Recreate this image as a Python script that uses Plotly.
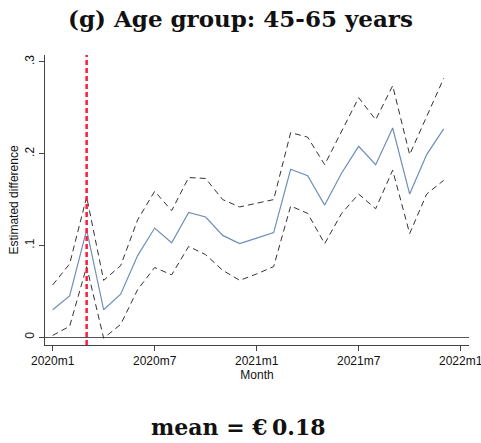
import plotly.graph_objects as go

months = list(range(24))
estimate = [0.030, 0.045, 0.117, 0.030, 0.047, 0.089, 0.119, 0.103, 0.136, 0.131,
            0.111, 0.102, 0.108, 0.114, 0.183, 0.176, 0.144, 0.179, 0.208, 0.188,
            0.228, 0.156, 0.199, 0.227]
upper = [0.057, 0.080, 0.153, 0.062, 0.078, 0.128, 0.159, 0.138, 0.174, 0.173,
         0.150, 0.142, 0.146, 0.150, 0.223, 0.218, 0.188, 0.224, 0.261, 0.237,
         0.274, 0.199, 0.240, 0.282]
lower = [0.002, 0.012, 0.077, -0.001, 0.014, 0.052, 0.076, 0.068, 0.099, 0.090,
         0.073, 0.062, 0.069, 0.077, 0.143, 0.135, 0.102, 0.135, 0.156, 0.140,
         0.182, 0.113, 0.156, 0.171]
tick_vals = [0, 6, 12, 18, 24]
tick_text = ["2020m1", "2020m7", "2021m1", "2021m7", "2022m1"]
ytick_vals = [0, 0.1, 0.2, 0.3]
ytick_text = ["0", ".1", ".2", ".3"]
event_month = 2

W, H = 481, 443
L, R, T, B = 45, 12, 55, 98
PH = H - T - B
PW = W - L - R

fig = go.Figure()
fig.add_trace(go.Scatter(x=months, y=upper, mode="lines",
                         line=dict(color="#333333", width=1, dash="6px,4px"), showlegend=False))
fig.add_trace(go.Scatter(x=months, y=lower, mode="lines",
                         line=dict(color="#333333", width=1, dash="6px,4px"), showlegend=False))
fig.add_trace(go.Scatter(x=months, y=estimate, mode="lines",
                         line=dict(color="#6f8fb5", width=1.2), showlegend=False))
fig.add_shape(type="line", x0=event_month, x1=event_month, y0=0, y1=1, yref="paper", xref="x",
              line=dict(color="#ff1a3c", width=2.5, dash="5px,3px"))

fig.update_layout(
    width=W, height=H,
    margin=dict(l=L, r=R, t=T, b=B, autoexpand=False),
    plot_bgcolor="white", paper_bgcolor="white",
    font=dict(family="Liberation Sans, Arial", size=12, color="#111111"),
    title=dict(text="<b>(g) Age group: 45-65 years</b>", x=0.5, xanchor="center",
               y=1 - 19/H, yanchor="middle",
               font=dict(family="DejaVu Serif", size=23, color="#111111")),
    xaxis=dict(range=[-0.45, 24.49], tickvals=tick_vals, ticktext=tick_text,
               showgrid=False, zeroline=False, showline=True, linecolor="#444444", linewidth=1,
               ticks="outside", ticklen=5, tickcolor="#444444", automargin=False,
               ticklabeloverflow="allow",
               title=dict(text="Month", standoff=0, font=dict(size=12))),
    yaxis=dict(range=[-0.0084, 0.3075], tickvals=ytick_vals, ticktext=ytick_text,
               tickangle=-90, showgrid=False, zeroline=True, zerolinecolor="#555555",
               zerolinewidth=1, showline=True, linecolor="#444444", linewidth=1,
               ticks="outside", ticklen=5, tickcolor="#444444", automargin=False,
               ticklabeloverflow="allow",
               title=dict(text="Estimated difference", standoff=2, font=dict(size=12))),
)
fig.add_annotation(text="<b>mean = €\u20090.18</b>", xref="paper", yref="paper",
                   x=(238.5 - L) / PW, y=-(427 - (H - B)) / PH, xanchor="center", yanchor="middle",
                   showarrow=False, font=dict(family="DejaVu Serif", size=22, color="#111111"))
fig.write_html("out.html", config={"displayModeBar": False},
               post_script="document.body.style.margin='0';document.body.style.overflow='hidden';")
